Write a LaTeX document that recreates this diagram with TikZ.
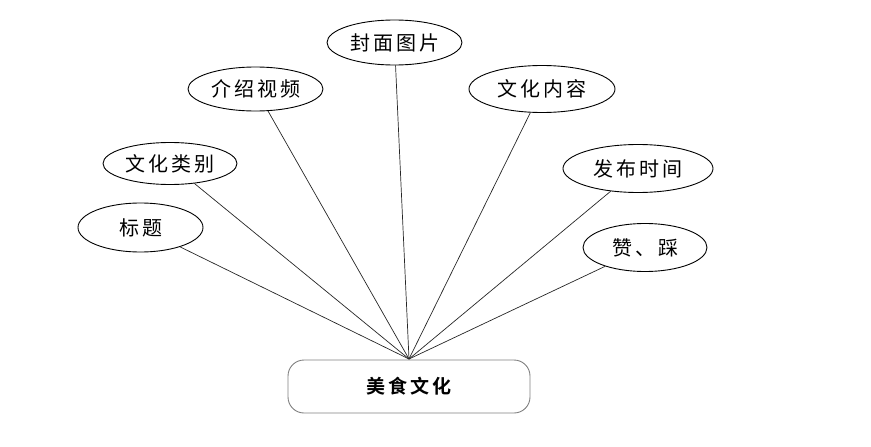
\documentclass[tikz,border=0pt]{standalone}
\usepackage{fontspec}
\usetikzlibrary{shapes.geometric}
\newfontfamily\cjk[LetterSpace=15,BoldFont={Noto Sans CJK SC Bold}]{Noto Sans CJK SC}
\begin{document}
\begin{tikzpicture}[x=1pt,y=-1pt,
  attr/.style={draw=black,line width=0.9pt,ellipse,inner sep=0pt,font=\cjk\fontsize{20}{22}\selectfont},
  ent/.style={draw=black!50,line width=0.9pt,rounded corners=16pt,inner sep=0pt,minimum width=242pt,minimum height=53pt,font=\cjk\bfseries\fontsize{19}{20}\selectfont},
  link/.style={draw=black!85,line width=0.7pt}]
\useasboundingbox (0,0) rectangle (871,447);
\node[ent] (e) at (409,386.5) {美食文化};
\coordinate (c) at (409,359);
\node[attr,minimum width=125pt,minimum height=49pt] (a1) at (140.5,227.5) {标题};
\node[attr,minimum width=134pt,minimum height=42pt] (a2) at (170,163.5) {文化类别};
\node[attr,minimum width=135pt,minimum height=44pt] (a3) at (255.5,89) {介绍视频};
\node[attr,minimum width=135pt,minimum height=45pt] (a4) at (394.5,42.5) {封面图片};
\node[attr,minimum width=146pt,minimum height=47pt] (a5) at (542,89) {文化内容};
\node[attr,minimum width=150pt,minimum height=48pt] (a6) at (638,168.5) {发布时间};
\node[attr,minimum width=124pt,minimum height=48pt] (a7) at (645,247.5) {赞、踩};
\foreach \n in {a1,a2,a3,a4,a5,a6,a7} \draw[link] (\n) -- (c);
\end{tikzpicture}
\end{document}
